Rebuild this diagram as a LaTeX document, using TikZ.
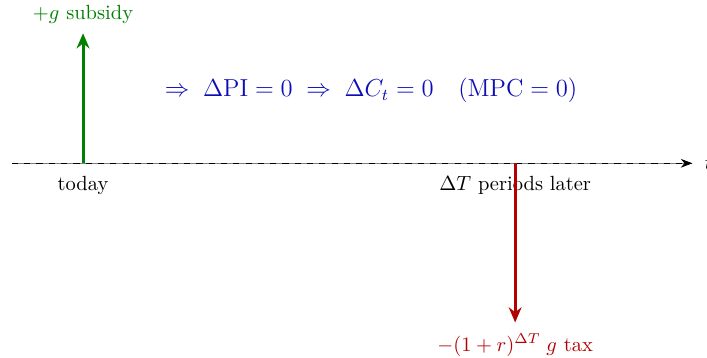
\documentclass[tikz,border=0pt]{standalone}
\usepackage{amsmath}
\usetikzlibrary{arrows.meta,positioning}
\definecolor{subsidy}{HTML}{008000}
\definecolor{tax}{HTML}{B30000}
\definecolor{ricardo}{HTML}{0D0DB8}

\begin{document}
\begin{tikzpicture}[
    flow/.style={-{Stealth[length=2.6mm,width=2.2mm]},line width=1.5pt},
    axis/.style={-{Stealth[length=2mm]},thin},
    tick/.style={below=3pt}
  ]
    \useasboundingbox (-1.424,-3.33) rectangle (10.70,2.80);
    % time line
    \draw[gray,thin] (-1.22,0) -- (10.45,0);
    \draw[axis,dashed] (-1.22,0) coordinate (start) -- (10.45,0) coordinate (tend);
    \node[right=2.5pt of tend] (t) {$t$};
    \coordinate (now) at (0,0);
    \coordinate (later) at (7.41,0);
    \node[tick] at (now) (today) {today};
    \node[tick] at (later) (laterlbl) {$\Delta T$ periods later};
    % transfers
    \coordinate (up) at (0,2.23);
    \coordinate (down) at (7.41,-2.73);
    \draw[flow,subsidy] (now) -- (up);
    \draw[flow,tax] (later) -- (down);
    \node[subsidy,above=0.04cm of up] (sub) {$+g$ subsidy};
    \node[tax,below=0.07cm of down] (taxlbl) {$-(1+r)^{\Delta T}\;g$ tax};
    % consequence
    \node[ricardo,font=\large] at (4.94,1.25) (chain)
      {$\Rightarrow\;\Delta\mathrm{PI}=0\;\Rightarrow\;\Delta C_t=0\quad(\mathrm{MPC}=0)$};
\end{tikzpicture}
\end{document}
